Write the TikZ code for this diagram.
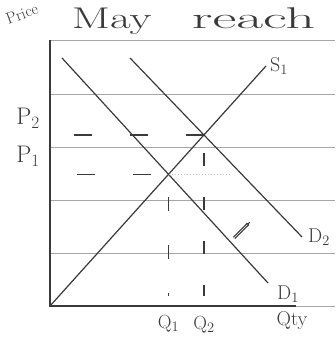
\documentclass[tikz,border=0pt]{standalone}
\usepackage{tikz}
\usetikzlibrary{arrows.meta, positioning, calc}
\definecolor{pen}{HTML}{3A3A3A}
\definecolor{paper}{HTML}{A6A6A6}
\definecolor{faint}{HTML}{C4C4C4}
\tikzset{
  >=Latex,
  ruled/.style={draw=paper, line width=0.9pt},
  axis/.style={draw=pen, line width=1.8pt},
  curve/.style={draw=pen, line width=1.2pt},
  guide/.style={draw=pen, line width=1.3pt, dash pattern=on 18pt off 38pt},
  qguide/.style={draw=pen, line width=1.3pt, dash pattern=on 14pt off 34pt},
  lab/.style={text=pen, inner sep=1pt, font=\fontsize{#1}{#1}\selectfont},
  lab/.default=20
}

\begin{document}
\begin{tikzpicture}[x=1pt, y=-1pt]
  \useasboundingbox (0,0) rectangle (335,355);
  % lined paper
  \foreach \yy in {40,94,147,200,253,306}
    \draw[ruled] (50,\yy) -- (335,\yy);
  % axes
  \coordinate (O) at (50,306);
  \coordinate (ytop) at (50,40);
  \coordinate (xend) at (296,306);
  \draw[axis] (ytop) -- (O) -- (xend);
  % demand and supply
  \coordinate (d1a) at (62,58);
  \coordinate (d1b) at (268,283);
  \coordinate (d2a) at (130,58);
  \coordinate (d2b) at (302,237);
  \coordinate (s1b) at (266,66);
  \draw[curve] (d1a) -- (d1b);
  \draw[curve] (d2a) -- (d2b);
  \draw[curve] (O) -- (s1b);
  \coordinate (E1) at (intersection of d1a--d1b and O--s1b);
  \coordinate (E2) at (intersection of d2a--d2b and O--s1b);
  % price and quantity guides
  \coordinate (p2) at ($(ytop|-E2)+(16,0)$);
  \coordinate (p1) at ($(ytop|-E1)+(20,0)$);
  \coordinate (qa1) at (E1|-O);
  \coordinate (qa2) at (E2|-O);
  \coordinate (q1) at ($(qa1)+(0,-10)$);
  \coordinate (q2) at ($(qa2)+(0,-10)$);
  \coordinate (p1end) at ($(E1)+(62,0)$);
  \draw[guide] (E2) -- (p2);
  \draw[guide, dash phase=38pt] (E1) -- (p1);
  \draw[draw=faint, line width=1pt, dotted] (E1) -- (p1end);
  \draw[qguide, dash phase=25pt] (E1) -- (q1);
  \draw[qguide, dash pattern=on 13pt off 31pt, dash phase=26pt] (E2) -- (q2);
  % shift mark
  \coordinate (sh1) at (234,238);
  \coordinate (sh2) at (250,222);
  \draw[curve, double, -{Stealth[length=5pt]}] (sh1) -- (sh2);
  % labels
  \node[lab=16, rotate=20] (price) at (22,14) {Price};
  \node[lab=30, anchor=base west, xscale=1.5, transform shape] (title) at (70,29)
    {May\hspace{27pt}\scalebox{1.3}[1]{reach}};
  \node[lab=24] (P2) at (28,118) {P$_2$};
  \node[lab=24] (P1) at (28,156) {P$_1$};
  \node[lab, right=3pt of s1b] (S1) {S$_1$};
  \node[lab, right=5pt of d2b] (D2) {D$_2$};
  \node[lab, below right=2pt and 8pt of d1b] (D1) {D$_1$};
  \node[lab=19, below=8pt of qa1] (Q1) {Q$_1$};
  \node[lab=19, below=9pt of qa2] (Q2) {Q$_2$};
  \node[lab=20] (qty) at (292,321) {Qty};
\end{tikzpicture}
\end{document}
